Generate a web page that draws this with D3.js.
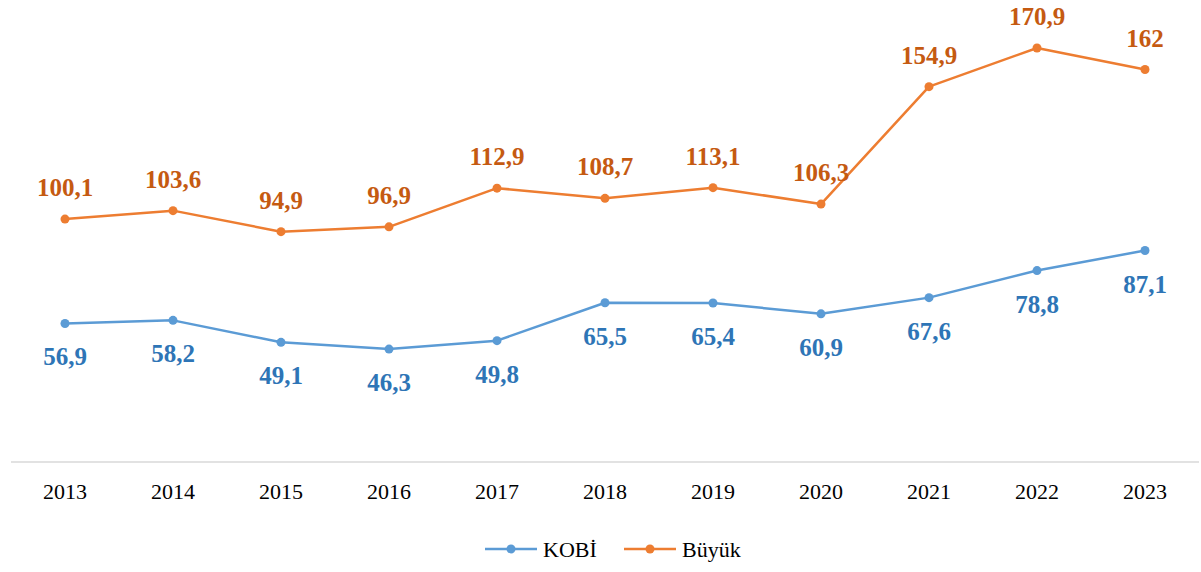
<!DOCTYPE html>
<html>
<head>
<meta charset="utf-8">
<script src="https://cdn.jsdelivr.net/npm/d3@7"></script>
<style>
  body { margin: 0; background: #fff; }
  svg { display: block; }
</style>
</head>
<body>
<div id="chart"></div>
<script>
// Data
const years = ["2013", "2014", "2015", "2016", "2017", "2018", "2019", "2020", "2021", "2022", "2023"];
const kobi = [56.9, 58.2, 49.1, 46.3, 49.8, 65.5, 65.4, 60.9, 67.6, 78.8, 87.1];
const buyuk = [100.1, 103.6, 94.9, 96.9, 112.9, 108.7, 113.1, 106.3, 154.9, 170.9, 162];
const labelsKobi = ["56,9", "58,2", "49,1", "46,3", "49,8", "65,5", "65,4", "60,9", "67,6", "78,8", "87,1"];
const labelsBuyuk = ["100,1", "103,6", "94,9", "96,9", "112,9", "108,7", "113,1", "106,3", "154,9", "170,9", "162"];

const width = 1201, height = 572;
const fontFamily = "'Liberation Serif', 'Times New Roman', serif";

const svg = d3.select("#chart").append("svg")
    .attr("width", width)
    .attr("height", height);

const x = d3.scaleBand()
    .domain(years)
    .range([11, 1199]);

const y = d3.scaleLinear()
    .domain([0, 180])
    .range([461, 26]);

const cx = d => x(d) + x.bandwidth() / 2;

// x axis line
svg.append("line")
    .attr("x1", 11).attr("x2", 1199)
    .attr("y1", 462).attr("y2", 462)
    .attr("stroke", "#d9d9d9")
    .attr("stroke-width", 1.5);

// tick labels
svg.selectAll(".tick-label")
    .data(years)
    .enter().append("text")
    .attr("class", "tick-label")
    .attr("x", d => cx(d))
    .attr("y", 499)
    .attr("text-anchor", "middle")
    .attr("font-family", fontFamily)
    .attr("font-size", 22)
    .attr("fill", "#000")
    .text(d => d);

const series = [
    { name: "KOBİ", values: kobi, labels: labelsKobi, color: "#5b9bd5", labelColor: "#2e75b6", dy: 42 },
    { name: "Büyük", values: buyuk, labels: labelsBuyuk, color: "#ed7d31", labelColor: "#c55a11", dy: -23 }
];

const line = d3.line()
    .x((d, i) => cx(years[i]))
    .y(d => y(d));

series.forEach(s => {
    svg.append("path")
        .datum(s.values)
        .attr("d", line)
        .attr("fill", "none")
        .attr("stroke", s.color)
        .attr("stroke-width", 2.5)
        .attr("stroke-linejoin", "round");

    svg.selectAll(null)
        .data(s.values)
        .enter().append("circle")
        .attr("cx", (d, i) => cx(years[i]))
        .attr("cy", d => y(d))
        .attr("r", 4.5)
        .attr("fill", s.color);

    svg.selectAll(null)
        .data(s.values)
        .enter().append("text")
        .attr("x", (d, i) => cx(years[i]))
        .attr("y", d => y(d) + s.dy)
        .attr("text-anchor", "middle")
        .attr("font-family", fontFamily)
        .attr("font-weight", "bold")
        .attr("font-size", 25)
        .attr("fill", s.labelColor)
        .text((d, i) => s.labels[i]);
});

// legend
const legendX = [485, 624];
const legend = svg.selectAll(".legend")
    .data(series)
    .enter().append("g")
    .attr("class", "legend")
    .attr("transform", (d, i) => `translate(${legendX[i]},549)`);

legend.append("line")
    .attr("x1", 0).attr("x2", 52)
    .attr("stroke", d => d.color)
    .attr("stroke-width", 2.5);

legend.append("circle")
    .attr("cx", 26)
    .attr("r", 4.5)
    .attr("fill", d => d.color);

legend.append("text")
    .attr("x", 58)
    .attr("y", 8)
    .attr("font-family", fontFamily)
    .attr("font-size", 22)
    .attr("fill", "#000")
    .text(d => d.name);
</script>
</body>
</html>
